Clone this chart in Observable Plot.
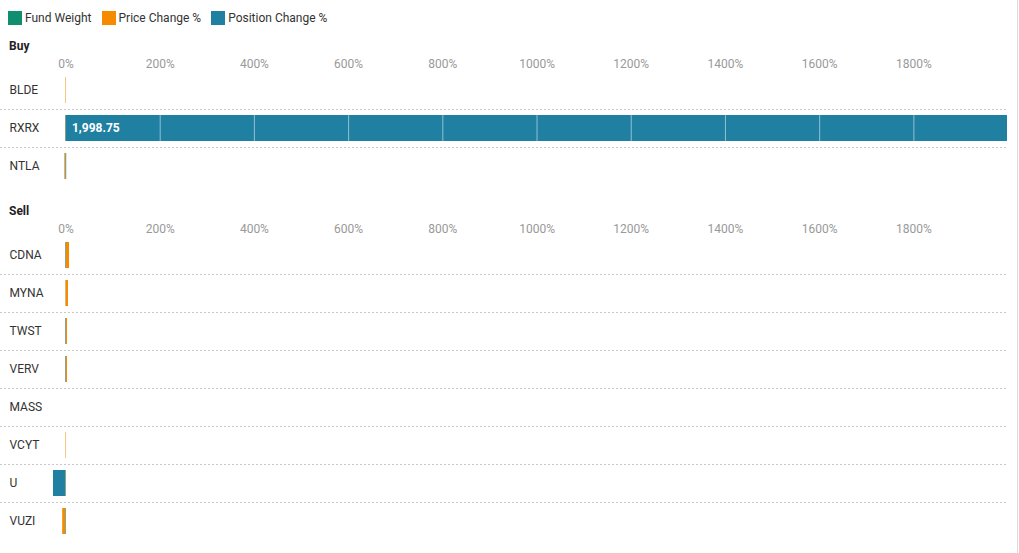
<!DOCTYPE html>
<html><head><meta charset="utf-8">
<script src="https://cdn.jsdelivr.net/npm/d3@7"></script>
<script src="https://cdn.jsdelivr.net/npm/@observablehq/plot@0.6"></script>
<style>
body{margin:0;font-family:Roboto,sans-serif;background:#fff;}
#root{width:1018px;height:553px;border-right:1px solid #ddd;box-sizing:border-box;position:relative;overflow:hidden}
.legend{display:flex;padding:11px 0 0 8px;font-size:12px;line-height:14px;color:#333}
.item{display:flex;align-items:center;margin-right:10px}
.sw{width:14px;height:14px;margin-right:3px}
.hdr{font-weight:bold;font-size:12px;line-height:13px;padding-left:9px;color:#222}
svg{display:block}
</style></head>
<body><div id="root"></div>
<script>
const buyTickers = ["BLDE", "RXRX", "NTLA"];
const sellTickers = ["CDNA", "MYNA", "TWST", "VERV", "MASS", "VCYT", "U", "VUZI"];
const fundWeight = {BLDE: 0.1, RXRX: 0.2, NTLA: 0.1, CDNA: 0.1, MYNA: 0.1, TWST: 0.1, VERV: 0.1, MASS: 0, VCYT: 0.1, U: 0.1, VUZI: 0.1};
const priceChange = {BLDE: 1, RXRX: 1.5, NTLA: -2.5, CDNA: 7.5, MYNA: 5.3, TWST: 3.2, VERV: 3.2, MASS: 0, VCYT: 1, U: 1, VUZI: -7};
const positionChange = {BLDE: 0, RXRX: 1998.75, NTLA: 1.5, CDNA: 1, MYNA: 0.3, TWST: 1, VERV: 1, MASS: 0, VCYT: 0, U: -26.5, VUZI: 1};
const xTicks = [0, 200, 400, 600, 800, 1000, 1200, 1400, 1600, 1800];
const seriesNames = ["Fund Weight", "Price Change %", "Position Change %"];
const colors = ["#0f8f70", "#f68b00", "#1f80a2"];

const root = document.getElementById("root");
const legend = document.createElement("div");
legend.className = "legend";
seriesNames.forEach((n, i) => {
  const it = document.createElement("div"); it.className = "item";
  const sw = document.createElement("div"); sw.className = "sw"; sw.style.background = colors[i];
  const t = document.createElement("span"); t.textContent = n;
  it.append(sw, t); legend.append(it);
});
root.append(legend);

const all = [...buyTickers, ...sellTickers];
const allVals = all.flatMap(t => [fundWeight[t], priceChange[t], positionChange[t], 0]);
const xDomain = d3.extent(allVals);
const fmt = d3.format(",.2f");

function chart(tickers) {
  const rows = tickers.map(t => ({ticker: t, fund: fundWeight[t], price: priceChange[t], position: positionChange[t]}));
  const grid = rows.flatMap(r => xTicks.filter(v => v > 0).map(v => ({ticker: r.ticker, v})));
  return Plot.plot({
    width: 1016, height: 18 + 38 * tickers.length,
    marginTop: 18, marginBottom: 0, marginLeft: 53, marginRight: 9,
    x: {domain: xDomain, axis: null, label: null},
    y: {domain: tickers, padding: 0, axis: null, label: null},
    style: {fontFamily: "Roboto, sans-serif", fontSize: "12px", background: "white", overflow: "visible"},
    marks: [
      Plot.ruleY(tickers.slice(1), {y: d => d, dy: -19, stroke: "#c8c8c8", strokeDasharray: "2,2", insetLeft: -53}),
      Plot.barX(rows, {x1: d => 0, x2: "fund", y: "ticker", fill: colors[0], insetTop: 6, insetBottom: 6}),
      Plot.barX(rows, {x1: d => 0, x2: "price", y: "ticker", fill: colors[1], insetTop: 6, insetBottom: 6}),
      Plot.barX(rows, {x1: d => 0, x2: "position", y: "ticker", fill: colors[2], insetTop: 6, insetBottom: 6}),
      Plot.tickX(grid, {x: "v", y: "ticker", stroke: "white", strokeOpacity: 0.5, strokeWidth: 1, insetTop: 6, insetBottom: 6}),
      Plot.text(rows.filter(d => d.position > 100), {x: d => 0, y: "ticker", text: d => fmt(d.position), dx: 6, textAnchor: "start", fill: "white", fontWeight: "bold"}),
      Plot.axisX(xTicks, {anchor: "top", tickSize: 0, tickPadding: 4, tickFormat: d => d + "%", fill: "#999", label: null}),
      Plot.axisY({tickSize: 0, tickPadding: 44, textAnchor: "start", fill: "#333", label: null})
    ]
  });
}

const h1 = document.createElement("div"); h1.className = "hdr"; h1.textContent = "Buy"; h1.style.marginTop = "15px";
root.append(h1, chart(buyTickers));
const h2 = document.createElement("div"); h2.className = "hdr"; h2.textContent = "Sell"; h2.style.marginTop = "20px";
root.append(h2, chart(sellTickers));
</script>
</body></html>
